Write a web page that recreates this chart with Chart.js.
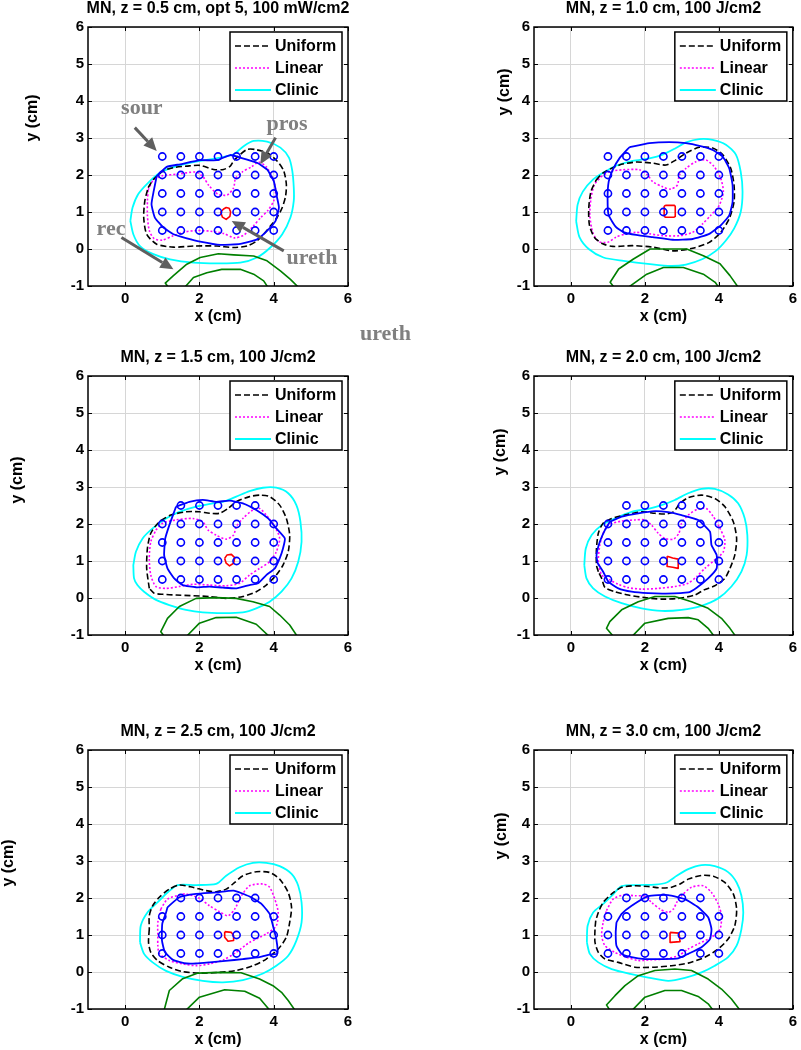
<!DOCTYPE html>
<html>
<head>
<meta charset="utf-8">
<script src="https://cdn.jsdelivr.net/npm/chart.js@4.4.0/dist/chart.umd.min.js"></script>
<style>
  body { margin: 0; background: #fff; width: 801px; height: 1050px; position: relative; overflow: hidden; }
  canvas { position: absolute; }
  #stray { position: absolute; left: 360px; top: 321px; font: bold 22px "Liberation Serif", "Times New Roman", serif; color: #808080; line-height: 24px; z-index: 5; }
</style>
</head>
<body>
<canvas id="c1" width="400" height="335" style="left:0;top:0"></canvas>
<canvas id="c2" width="401" height="335" style="left:400px;top:0"></canvas>
<canvas id="c3" width="400" height="365" style="left:0;top:335px"></canvas>
<canvas id="c4" width="401" height="365" style="left:400px;top:335px"></canvas>
<canvas id="c5" width="400" height="350" style="left:0;top:700px"></canvas>
<canvas id="c6" width="401" height="350" style="left:400px;top:700px"></canvas>
<div id="stray">ureth</div>
<script>
// axes
const xTicks = [0, 2, 4, 6];
const yTicks = [-1, 0, 1, 2, 3, 4, 5, 6];
const seriesNames = ['Uniform', 'Linear', 'Clinic'];
const titles = [
  'MN, z = 0.5 cm, opt 5, 100 mW/cm2',
  'MN, z = 1.0 cm, 100 J/cm2',
  'MN, z = 1.5 cm, 100 J/cm2',
  'MN, z = 2.0 cm, 100 J/cm2',
  'MN, z = 2.5 cm, 100 J/cm2',
  'MN, z = 3.0 cm, 100 J/cm2'
];

// source positions: [y, [x...]]
const sourcesFull = [[2.5, [1, 1.5, 2, 2.5, 3, 3.5, 4]], [2, [1, 1.5, 2, 2.5, 3, 3.5, 4]], [1.5, [1, 1.5, 2, 2.5, 3, 3.5, 4]], [1, [1, 1.5, 2, 2.5, 3, 3.5, 4]], [0.5, [1, 1.5, 2, 2.5, 3, 3.5, 4]]];
const sourcesMid = [[2.5, [1.5, 2, 2.5, 3, 3.5]], [2, [1, 1.5, 2, 2.5, 3, 3.5, 4]], [1.5, [1, 1.5, 2, 2.5, 3, 3.5, 4]], [1, [1, 1.5, 2, 2.5, 3, 3.5, 4]], [0.5, [1, 1.5, 2, 2.5, 3, 3.5, 4]]];
const sourcesLow = [[2, [1.5, 2, 2.5, 3, 3.5]], [1.5, [1, 1.5, 2, 2.5, 3, 3.5, 4]], [1, [1, 1.5, 2, 2.5, 3, 3.5, 4]], [0.5, [1, 1.5, 2, 2.5, 3, 3.5, 4]]];

// z = 0.5
const uniform05 = [[0.62,1.66],[0.76,1.88],[1.03,2.11],[1.30,2.20],[1.66,2.24],[2.02,2.26],[2.38,2.15],[2.65,2.15],[2.83,2.24],[2.92,2.38],[3.05,2.51],[3.28,2.69],[3.50,2.69],[3.82,2.60],[4.09,2.38],[4.27,2.11],[4.34,1.75],[4.32,1.43],[4.23,1.12],[4.09,0.85],[3.91,0.62],[3.73,0.40],[3.55,0.22],[3.28,0.08],[2.92,0.04],[2.47,0.08],[1.84,0.08],[1.30,0.05],[0.85,0.13],[0.58,0.40],[0.50,0.85],[0.53,1.30],[0.62,1.66]];
const linear05 = [[0.62,1.60],[0.75,1.85],[1.0,1.98],[1.4,2.02],[1.9,2.08],[2.1,1.95],[2.25,1.72],[2.5,1.48],[2.75,1.46],[2.92,1.65],[2.97,1.90],[3.15,2.08],[3.4,2.22],[3.6,2.35],[3.8,2.22],[3.97,1.92],[4.05,1.60],[4.0,1.30],[3.85,1.05],[3.65,0.85],[3.45,0.62],[3.2,0.38],[2.95,0.30],[2.65,0.42],[2.3,0.48],[1.95,0.50],[1.6,0.46],[1.3,0.36],[1.0,0.24],[0.78,0.28],[0.65,0.50],[0.60,0.90],[0.60,1.30],[0.62,1.60]];
const clinic05 = [[0.14,0.76],[0.20,1.12],[0.35,1.48],[0.62,1.79],[0.94,2.06],[1.39,2.24],[2.02,2.38],[2.56,2.47],[2.92,2.56],[3.19,2.78],[3.46,2.92],[3.82,2.90],[4.18,2.74],[4.41,2.47],[4.50,2.11],[4.54,1.66],[4.54,1.30],[4.45,0.85],[4.23,0.40],[3.91,0.04],[3.55,-0.23],[3.10,-0.37],[2.47,-0.39],[1.84,-0.37],[1.21,-0.28],[0.76,-0.14],[0.40,0.08],[0.22,0.40],[0.14,0.76]];
const prostate05 = [[0.85,1.97],[1.12,2.22],[1.48,2.29],[2.02,2.40],[2.47,2.40],[2.83,2.54],[3.10,2.47],[3.55,2.33],[3.82,2.15],[4.00,1.84],[4.09,1.39],[4.14,1.12],[4.05,0.76],[3.82,0.49],[3.55,0.26],[3.10,0.14],[2.56,0.11],[2.02,0.20],[1.66,0.29],[1.30,0.40],[1.03,0.58],[0.80,0.85],[0.71,1.21],[0.77,1.57],[0.85,1.97]];
const urethra05 = [[2.57,1.0],[2.65,1.08],[2.72,1.12],[2.80,1.10],[2.84,1.0],[2.82,0.88],[2.72,0.80],[2.62,0.86],[2.57,1.0]];
const rectumOuter05 = [[1.16,-1.03],[1.08,-0.92],[1.30,-0.72],[1.66,-0.41],[2.02,-0.23],[2.51,-0.13],[2.92,-0.16],[3.46,-0.19],[3.82,-0.32],[4.18,-0.59],[4.45,-0.82],[4.66,-1.03]];
const rectumInner05 = [[1.61,-1.03],[1.84,-0.77],[2.2,-0.64],[2.6,-0.55],[3.1,-0.55],[3.46,-0.68],[3.73,-0.86],[3.84,-1.03]];

// z = 1.0
const uniform10 = [[0.68,1.86],[0.86,2.05],[1.31,2.27],[1.76,2.35],[2.21,2.32],[2.57,2.27],[2.84,2.41],[3.11,2.59],[3.47,2.75],[3.83,2.73],[4.10,2.55],[4.32,2.18],[4.41,1.73],[4.41,1.27],[4.28,0.82],[4.05,0.45],[3.74,0.18],[3.29,0.02],[2.75,-0.05],[2.21,0.05],[1.67,0.09],[1.13,0.07],[0.86,0.14],[0.63,0.32],[0.50,0.64],[0.48,1.09],[0.54,1.55],[0.68,1.86]];
const linear10 = [[0.81,1.95],[1.04,2.09],[1.40,2.14],[1.85,2.14],[2.07,2.0],[2.21,1.82],[2.48,1.68],[2.70,1.62],[2.88,1.73],[2.93,2.0],[3.11,2.18],[3.38,2.36],[3.65,2.41],[3.87,2.23],[4.05,1.91],[4.12,1.55],[4.01,1.18],[3.78,0.91],[3.56,0.68],[3.29,0.45],[2.93,0.36],[2.48,0.36],[2.12,0.41],[1.76,0.45],[1.49,0.41],[1.22,0.32],[0.99,0.18],[0.75,0.20],[0.59,0.45],[0.51,0.91],[0.54,1.36],[0.63,1.73],[0.81,1.95]];
const clinic10 = [[0.14,0.75],[0.18,1.2],[0.32,1.55],[0.6,1.88],[0.9,2.08],[1.22,2.25],[1.67,2.38],[2.12,2.45],[2.48,2.55],[2.84,2.73],[3.11,2.88],[3.47,2.97],[3.83,2.95],[4.19,2.82],[4.46,2.55],[4.59,2.09],[4.64,1.55],[4.59,1.0],[4.41,0.55],[4.19,0.23],[3.92,-0.05],[3.56,-0.27],[3.11,-0.42],[2.7,-0.46],[2.14,-0.41],[1.42,-0.32],[0.88,-0.23],[0.48,0.0],[0.23,0.32],[0.14,0.75]];
const prostate10 = [[1.58,2.75],[2.12,2.86],[2.66,2.89],[3.11,2.86],[3.50,2.78],[3.83,2.68],[4.10,2.50],[4.28,2.18],[4.37,1.73],[4.37,1.27],[4.28,0.91],[4.05,0.64],[3.74,0.41],[3.29,0.27],[2.75,0.25],[2.21,0.32],[1.76,0.38],[1.44,0.45],[1.22,0.59],[1.02,0.91],[0.99,1.36],[1.02,1.82],[1.13,2.14],[1.31,2.45],[1.58,2.75]];
const urethra10 = [[2.55,1.18],[2.80,1.18],[2.82,1.15],[2.82,0.88],[2.79,0.86],[2.55,0.86],[2.52,0.90],[2.52,1.15],[2.55,1.18]];
const rectumOuter10 = [[1.16,-1.03],[1.06,-0.9],[1.29,-0.54],[1.69,-0.27],[2.14,0.0],[3.13,0.0],[3.58,-0.18],[4.03,-0.40],[4.30,-0.72],[4.52,-1.03]];
const rectumInner10 = [[1.56,-1.03],[2.05,-0.68],[2.5,-0.5],[3.04,-0.5],[3.58,-0.68],[3.9,-0.9],[3.99,-1.03]];

// z = 1.5
const uniform15 = [[0.65,0.26],[0.58,0.80],[0.60,1.34],[0.69,1.75],[0.92,2.06],[1.23,2.24],[1.64,2.33],[2.0,2.33],[2.27,2.29],[2.54,2.29],[2.77,2.42],[2.99,2.60],[3.35,2.74],[3.62,2.78],[3.89,2.74],[4.16,2.51],[4.34,2.15],[4.43,1.70],[4.39,1.25],[4.25,0.89],[4.07,0.62],[3.80,0.35],[3.53,0.17],[3.17,0.04],[2.72,-0.01],[2.27,0.04],[1.37,0.08],[1.01,0.10],[0.78,0.13],[0.65,0.26]];
const linear15 = [[0.83,1.84],[1.01,2.02],[1.37,2.11],[1.82,2.15],[2.09,2.06],[2.23,1.84],[2.45,1.70],[2.72,1.59],[2.92,1.70],[2.99,1.93],[3.17,2.15],[3.44,2.38],[3.62,2.42],[3.80,2.24],[4.03,1.93],[4.16,1.61],[4.07,1.25],[3.89,0.98],[3.62,0.80],[3.35,0.62],[3.08,0.40],[2.72,0.33],[2.27,0.35],[1.82,0.37],[1.46,0.31],[1.10,0.26],[0.83,0.31],[0.69,0.62],[0.65,1.07],[0.69,1.52],[0.83,1.84]];
const clinic15 = [[0.22,0.89],[0.29,1.25],[0.47,1.61],[0.74,1.88],[1.10,2.15],[1.46,2.33],[1.91,2.47],[2.36,2.56],[2.70,2.62],[2.99,2.74],[3.35,2.89],[3.71,2.98],[4.07,2.98],[4.39,2.83],[4.61,2.51],[4.72,2.06],[4.75,1.52],[4.66,0.98],[4.48,0.53],[4.21,0.17],[3.89,-0.10],[3.53,-0.28],[3.17,-0.39],[2.63,-0.41],[2.09,-0.39],[1.64,-0.32],[1.19,-0.19],[0.83,-0.05],[0.51,0.17],[0.33,0.35],[0.24,0.53],[0.22,0.89]];
const prostate15 = [[1.37,2.47],[1.73,2.60],[2.09,2.65],[2.45,2.60],[2.81,2.63],[3.17,2.56],[3.53,2.38],[3.85,2.15],[4.07,1.88],[4.30,1.61],[4.25,1.34],[4.16,1.07],[4.03,0.80],[3.80,0.62],[3.58,0.40],[3.35,0.35],[3.0,0.26],[2.63,0.28],[2.27,0.31],[1.91,0.29],[1.55,0.35],[1.32,0.53],[1.14,0.80],[1.05,1.16],[1.08,1.61],[1.19,1.97],[1.32,2.33],[1.37,2.47]];
const urethra15 = [[2.68,1.07],[2.74,1.16],[2.86,1.18],[2.95,1.09],[2.92,0.94],[2.81,0.87],[2.72,0.94],[2.68,1.07]];
const rectumOuter15 = [[1.05,-1.03],[0.96,-0.91],[1.14,-0.55],[1.46,-0.23],[1.91,-0.01],[2.45,0.01],[2.99,-0.01],[3.44,-0.10],[3.89,-0.23],[4.16,-0.46],[4.43,-0.73],[4.63,-1.03]];
const rectumInner15 = [[1.66,-1.03],[2.0,-0.68],[2.45,-0.53],[2.99,-0.52],[3.53,-0.71],[3.87,-1.03]];

// z = 2.0
const uniform20 = [[0.74,0.71],[0.69,0.89],[0.69,1.34],[0.74,1.75],[0.87,2.02],[1.10,2.15],[1.46,2.24],[1.91,2.33],[2.27,2.29],[2.54,2.27],[2.77,2.33],[2.95,2.56],[3.17,2.71],[3.53,2.78],[3.89,2.69],[4.16,2.47],[4.39,2.06],[4.48,1.61],[4.43,1.16],[4.30,0.80],[4.16,0.53],[3.89,0.33],[3.60,0.22],[3.35,0.08],[2.90,-0.01],[2.45,-0.03],[2.0,0.01],[1.55,0.08],[1.19,0.17],[0.92,0.28],[0.83,0.53],[0.74,0.71]];
const linear20 = [[0.87,1.75],[1.01,1.97],[1.37,2.08],[1.73,2.11],[2.0,2.11],[2.18,1.97],[2.36,1.75],[2.54,1.61],[2.77,1.59],[2.92,1.75],[2.99,2.02],[3.17,2.24],[3.44,2.41],[3.67,2.41],[3.85,2.20],[4.03,1.88],[4.16,1.57],[4.12,1.25],[3.89,1.03],[3.62,0.80],[3.40,0.58],[3.17,0.40],[2.81,0.31],[2.36,0.26],[1.91,0.24],[1.55,0.28],[1.28,0.37],[1.05,0.49],[0.83,0.62],[0.74,0.98],[0.78,1.43],[0.87,1.75]];
const clinic20 = [[0.36,0.89],[0.40,1.34],[0.56,1.70],[0.83,1.97],[1.19,2.15],[1.64,2.33],[2.09,2.41],[2.45,2.51],[2.81,2.65],[3.17,2.83],[3.53,2.95],[3.89,2.95],[4.25,2.80],[4.52,2.56],[4.70,2.15],[4.77,1.70],[4.75,1.16],[4.61,0.71],[4.34,0.31],[3.98,-0.01],[3.53,-0.21],[2.99,-0.32],[2.45,-0.35],[1.91,-0.28],[1.37,-0.14],[0.92,0.04],[0.60,0.26],[0.42,0.53],[0.36,0.89]];
const prostate20 = [[1.05,2.06],[1.37,2.20],[1.82,2.29],[2.27,2.35],[2.63,2.32],[2.99,2.24],[3.44,2.11],[3.76,1.79],[3.80,1.43],[3.94,1.16],[3.94,0.80],[3.71,0.53],[3.40,0.28],[3.17,0.15],[2.56,0.12],[2.09,0.13],[1.64,0.17],[1.28,0.26],[1.01,0.44],[0.87,0.71],[0.72,0.95],[0.69,1.16],[0.78,1.52],[0.92,1.84],[1.05,2.06]];
const urethra20 = [[2.60,1.13],[2.75,1.08],[2.90,1.05],[2.90,0.80],[2.75,0.83],[2.62,0.85],[2.60,1.13]];
const rectumOuter20 = [[1.14,-1.03],[0.96,-0.82],[1.05,-0.64],[1.37,-0.32],[1.82,-0.10],[2.27,0.04],[2.81,0.04],[3.26,-0.10],[3.71,-0.28],[4.07,-0.55],[4.30,-0.82],[4.45,-1.03]];
const rectumInner20 = [[1.66,-1.03],[2.0,-0.68],[2.63,-0.55],[3.17,-0.53],[3.44,-0.59],[3.71,-0.82],[3.87,-1.03]];

// z = 2.5
const uniform25 = [[0.65,1.16],[0.63,0.80],[0.69,0.53],[0.87,0.31],[1.19,0.13],[1.55,0.01],[2.0,-0.03],[2.54,-0.01],[2.99,0.04],[3.44,0.17],[3.80,0.35],[4.12,0.62],[4.34,0.94],[4.43,1.34],[4.48,1.75],[4.39,2.15],[4.16,2.51],[3.89,2.69],[3.53,2.71],[3.17,2.60],[2.95,2.42],[2.72,2.24],[2.45,2.17],[2.18,2.20],[1.82,2.29],[1.46,2.35],[1.19,2.24],[0.92,2.02],[0.74,1.79],[0.65,1.52],[0.65,1.16]];
const linear25 = [[0.96,1.70],[1.14,1.97],[1.46,2.08],[1.64,2.11],[2.0,1.99],[2.27,1.79],[2.54,1.63],[2.77,1.52],[2.95,1.70],[3.13,2.06],[3.35,2.33],[3.71,2.38],[3.89,2.29],[4.03,1.97],[4.12,1.61],[4.07,1.25],[3.80,1.03],[3.35,0.80],[2.99,0.53],[2.65,0.33],[2.27,0.22],[1.91,0.17],[1.55,0.22],[1.19,0.31],[0.92,0.50],[0.88,0.71],[0.88,0.98],[0.88,1.34],[0.96,1.70]];
const clinic25 = [[0.40,0.80],[0.42,1.25],[0.60,1.61],[0.87,1.88],[1.14,2.15],[1.41,2.35],[1.91,2.35],[2.45,2.38],[2.72,2.60],[3.08,2.83],[3.44,2.95],[3.80,2.95],[4.16,2.86],[4.48,2.65],[4.66,2.33],[4.75,1.88],[4.75,1.34],[4.61,0.85],[4.39,0.44],[4.07,0.17],[3.71,-0.04],[3.17,-0.22],[2.63,-0.28],[2.09,-0.24],[1.55,-0.13],[1.10,0.03],[0.74,0.26],[0.51,0.49],[0.40,0.80]];
const prostate25 = [[1.14,1.75],[1.46,2.02],[1.91,2.11],[2.45,2.15],[2.92,2.20],[3.35,2.04],[3.67,1.84],[3.89,1.57],[3.98,1.25],[4.07,0.89],[4.10,0.50],[3.89,0.47],[3.62,0.40],[3.17,0.35],[2.70,0.30],[2.27,0.26],[1.91,0.23],[1.66,0.23],[1.30,0.32],[1.07,0.54],[0.99,0.86],[1.0,1.31],[1.10,1.60],[1.14,1.75]];
const urethra25 = [[2.68,1.09],[2.86,1.07],[2.92,0.98],[2.92,0.85],[2.77,0.83],[2.72,0.89],[2.68,0.94],[2.68,1.09]];
const rectumOuter25 = [[1.05,-1.03],[1.19,-0.50],[1.55,-0.18],[1.96,-0.03],[2.54,-0.01],[3.12,-0.02],[3.62,-0.19],[3.98,-0.37],[4.21,-0.55],[4.39,-0.77],[4.57,-1.03]];
const rectumInner25 = [[1.64,-1.03],[2.0,-0.68],[2.68,-0.48],[3.22,-0.52],[3.62,-0.71],[3.89,-1.03]];

// z = 3.0
const uniform30 = [[0.67,1.39],[0.65,1.16],[0.65,0.80],[0.74,0.53],[0.92,0.35],[1.28,0.26],[1.73,0.13],[2.27,0.13],[2.72,0.17],[3.17,0.24],[3.62,0.40],[3.98,0.62],[4.25,0.89],[4.43,1.25],[4.48,1.70],[4.39,2.11],[4.16,2.42],[3.85,2.59],[3.53,2.61],[3.17,2.51],[2.95,2.38],[2.72,2.29],[2.45,2.27],[2.09,2.31],[1.73,2.33],[1.37,2.29],[1.10,2.11],[0.87,1.88],[0.74,1.61],[0.67,1.39]];
const linear30 = [[0.96,1.66],[1.14,1.97],[1.41,2.08],[1.73,2.06],[2.0,2.05],[2.18,1.88],[2.41,1.70],[2.63,1.61],[2.77,1.70],[2.86,1.88],[2.99,2.06],[3.26,2.29],[3.58,2.33],[3.80,2.15],[3.98,1.84],[4.07,1.52],[4.03,1.16],[3.80,0.94],[3.44,0.76],[3.17,0.62],[2.90,0.44],[2.54,0.35],[2.18,0.33],[1.82,0.31],[1.50,0.40],[1.19,0.53],[0.92,0.71],[0.83,0.98],[0.87,1.34],[0.96,1.66]];
const clinic30 = [[0.43,0.80],[0.45,1.25],[0.60,1.61],[0.87,1.84],[1.10,2.06],[1.37,2.32],[1.82,2.35],[2.27,2.36],[2.59,2.42],[2.86,2.60],[3.17,2.78],[3.53,2.89],[3.89,2.86],[4.25,2.70],[4.48,2.42],[4.61,2.06],[4.66,1.61],[4.61,1.16],[4.48,0.71],[4.25,0.40],[3.89,0.17],[3.53,-0.01],[3.08,-0.16],[2.63,-0.24],[2.09,-0.15],[1.60,-0.05],[1.10,0.08],[0.74,0.26],[0.51,0.49],[0.43,0.80]];
const prostate30 = [[1.23,1.34],[1.37,1.57],[1.64,1.79],[2.09,2.05],[2.63,2.08],[3.08,1.97],[3.44,1.75],[3.71,1.48],[3.80,1.16],[3.76,0.89],[3.53,0.67],[3.17,0.49],[2.90,0.37],[2.45,0.35],[2.0,0.35],[1.64,0.40],[1.37,0.49],[1.23,0.71],[1.21,1.07],[1.23,1.34]];
const urethra30 = [[2.68,1.07],[2.92,1.05],[2.95,0.82],[2.70,0.80],[2.68,1.07]];
const rectumOuter30 = [[1.05,-1.03],[0.96,-0.89],[1.19,-0.64],[1.46,-0.37],[1.82,-0.10],[2.27,0.04],[2.81,0.08],[3.26,0.04],[3.71,-0.19],[4.07,-0.46],[4.34,-0.73],[4.57,-1.03]];
const rectumInner30 = [[1.66,-1.03],[2.0,-0.68],[2.54,-0.50],[2.99,-0.50],[3.44,-0.66],[3.71,-0.86],[3.84,-1.03]];

// annotations on the first panel (data coordinates)
const noteLabels = ['sour', 'pros', 'rec', 'ureth'];
const noteTextAt = [[0.45, 3.81], [4.36, 3.38], [-0.38, 0.54], [5.03, -0.24]];
const noteArrowFrom = [[0.26, 3.28], [4.05, 3.01], [-0.10, 0.31], [4.27, -0.05]];
const noteArrowTo = [[0.85, 2.65], [3.64, 2.29], [1.30, -0.55], [2.87, 0.76]];

const FONT = '"Liberation Sans", Arial, sans-serif';
Chart.defaults.font.family = FONT;

const pts = list => list.map(([x, y]) => ({ x, y }));
const sourcePts = rows => rows.flatMap(([y, xs]) => xs.map(x => ({ x, y })));

function curve(label, list, color, dash, width, tension) {
  return {
    label, data: pts(list), showLine: true, borderColor: color, backgroundColor: color,
    borderDash: dash, borderWidth: width, pointRadius: 0, pointHoverRadius: 0,
    tension, fill: false, borderJoinStyle: 'round'
  };
}

function arrow(ctx, x0, y0, x1, y1) {
  const ang = Math.atan2(y1 - y0, x1 - x0), hl = 13, hw = 6;
  const bx = x1 - hl * Math.cos(ang), by = y1 - hl * Math.sin(ang);
  ctx.beginPath(); ctx.moveTo(x0, y0); ctx.lineTo(bx, by); ctx.stroke();
  ctx.beginPath();
  ctx.moveTo(x1, y1);
  ctx.lineTo(bx + hw * Math.sin(ang), by - hw * Math.cos(ang));
  ctx.lineTo(bx - hw * Math.sin(ang), by + hw * Math.cos(ang));
  ctx.closePath(); ctx.fill();
}

// title, axis labels, legend, box, inward ticks, notes
const panelDeco = {
  id: 'panelDeco',
  afterDraw(chart, args, o) {
    const { ctx, chartArea: a, scales: { x, y } } = chart;
    ctx.save();
    ctx.strokeStyle = '#000';
    ctx.lineWidth = 1;
    ctx.beginPath();
    xTicks.forEach(v => {
      const px = Math.round(x.getPixelForValue(v)) + 0.5;
      ctx.moveTo(px, a.bottom); ctx.lineTo(px, a.bottom - 4);
      ctx.moveTo(px, a.top); ctx.lineTo(px, a.top + 4);
    });
    yTicks.forEach(v => {
      const py = Math.round(y.getPixelForValue(v)) + 0.5;
      ctx.moveTo(a.left, py); ctx.lineTo(a.left + 4, py);
      ctx.moveTo(a.right, py); ctx.lineTo(a.right - 4, py);
    });
    ctx.stroke();

    // notes (panel 1 only)
    (o.notes || []).forEach(n => {
      ctx.strokeStyle = '#5f5f5f'; ctx.fillStyle = '#5f5f5f'; ctx.lineWidth = 3;
      arrow(ctx, x.getPixelForValue(n.from[0]), y.getPixelForValue(n.from[1]),
        x.getPixelForValue(n.to[0]), y.getPixelForValue(n.to[1]));
      ctx.fillStyle = '#808080';
      ctx.font = 'bold 22px "Liberation Serif", "Times New Roman", serif';
      ctx.textAlign = 'center'; ctx.textBaseline = 'middle';
      ctx.fillText(n.text, x.getPixelForValue(n.at[0]), y.getPixelForValue(n.at[1]));
    });

    ctx.strokeStyle = '#000';
    ctx.lineWidth = 1.5;
    ctx.strokeRect(a.left, a.top, a.right - a.left, a.bottom - a.top);

    // legend box
    const bw = 112, bh = 69, bx = a.right - 6 - bw, by = a.top + 5;
    ctx.fillStyle = '#fff';
    ctx.fillRect(bx, by, bw, bh);
    ctx.strokeRect(bx, by, bw, bh);
    ctx.font = 'bold 16px ' + FONT;
    ctx.textAlign = 'left'; ctx.textBaseline = 'middle';
    seriesNames.forEach((name, i) => {
      const ds = chart.data.datasets.find(d => d.label === name);
      const ly = by + 14 + 22 * i;
      ctx.strokeStyle = ds.borderColor;
      ctx.lineWidth = ds.borderWidth;
      ctx.setLineDash(ds.borderDash || []);
      ctx.beginPath(); ctx.moveTo(bx + 5, ly); ctx.lineTo(bx + 41, ly); ctx.stroke();
      ctx.setLineDash([]);
      ctx.fillStyle = '#000';
      ctx.fillText(name, bx + 45, ly + 1);
    });

    // titles
    const cx = (a.left + a.right) / 2;
    ctx.fillStyle = '#000';
    ctx.textAlign = 'center'; ctx.textBaseline = 'middle';
    ctx.font = 'bold 16px ' + FONT;
    ctx.fillText(o.title, cx, a.top - 18);
    ctx.fillText('x (cm)', cx, a.bottom + 31);
    ctx.translate(a.left + o.yLab[0], a.top + o.yLab[1]);
    ctx.rotate(-Math.PI / 2);
    ctx.fillText('y (cm)', 0, 0);
    ctx.restore();
  }
};

const notes = noteLabels.map((t, i) => ({ text: t, at: noteTextAt[i], from: noteArrowFrom[i], to: noteArrowTo[i] }));

const panels = [
  { id: 'c1', t: 0, src: sourcesFull, u: uniform05, l: linear05, c: clinic05, p: prostate05, r: urethra05, ro: rectumOuter05, ri: rectumInner05, notes },
  { id: 'c2', t: 1, src: sourcesFull, u: uniform10, l: linear10, c: clinic10, p: prostate10, r: urethra10, ro: rectumOuter10, ri: rectumInner10 },
  { id: 'c3', t: 2, src: sourcesMid, u: uniform15, l: linear15, c: clinic15, p: prostate15, r: urethra15, ro: rectumOuter15, ri: rectumInner15 },
  { id: 'c4', t: 3, src: sourcesMid, u: uniform20, l: linear20, c: clinic20, p: prostate20, r: urethra20, ro: rectumOuter20, ri: rectumInner20 },
  { id: 'c5', t: 4, src: sourcesLow, u: uniform25, l: linear25, c: clinic25, p: prostate25, r: urethra25, ro: rectumOuter25, ri: rectumInner25 },
  { id: 'c6', t: 5, src: sourcesLow, u: uniform30, l: linear30, c: clinic30, p: prostate30, r: urethra30, ro: rectumOuter30, ri: rectumInner30 }
];

// placement of each plot box inside its canvas
const layouts = [
  { pad: { left: 58, right: 52, top: 27, bottom: 29 }, yLab: [-55, 91] },
  { pad: { left: 104, right: 7, top: 27, bottom: 29 }, yLab: [-29, 65] },
  { pad: { left: 58, right: 52, top: 41, bottom: 45 }, yLab: [-70, 104] },
  { pad: { left: 104, right: 7, top: 41, bottom: 45 }, yLab: [-33, 76] },
  { pad: { left: 58, right: 52, top: 50, bottom: 21 }, yLab: [-79, 113] },
  { pad: { left: 104, right: 7, top: 50, bottom: 21 }, yLab: [-32, 86] }
];

const tickFont = { size: 15, weight: 'bold', family: FONT };

panels.forEach((p, i) => {
  const lay = layouts[i];
  new Chart(document.getElementById(p.id), {
    type: 'scatter',
    data: {
      datasets: [
        { label: 'sources', data: sourcePts(p.src), pointStyle: 'circle', pointRadius: 3.6, pointBorderWidth: 1.6,
          pointBorderColor: '#0000ff', pointBackgroundColor: 'rgba(0,0,0,0)', showLine: false },
        curve('rectum outer', p.ro, '#007f00', [], 1.6, 0),
        curve('rectum inner', p.ri, '#007f00', [], 1.6, 0),
        curve('urethra', p.r, '#ff0000', [], 1.6, 0),
        curve('prostate', p.p, '#0000ff', [], 1.8, 0.15),
        curve('Uniform', p.u, '#000000', [6, 3], 1.6, 0.25),
        curve('Linear', p.l, '#ff00ff', [2, 2], 1.6, 0.25),
        curve('Clinic', p.c, '#00ffff', [], 1.8, 0.25)
      ]
    },
    options: {
      responsive: false,
      animation: false,
      layout: { padding: lay.pad },
      plugins: {
        legend: { display: false },
        tooltip: { enabled: false },
        panelDeco: { title: titles[p.t], yLab: lay.yLab, notes: p.notes }
      },
      scales: {
        x: {
          type: 'linear', min: -1, max: 6,
          afterBuildTicks: s => { s.ticks = xTicks.map(v => ({ value: v })); },
          afterFit: s => { s.height = 20; },
          grid: { color: '#d6d6d6', lineWidth: 1, drawTicks: false },
          border: { display: false },
          ticks: { font: tickFont, color: '#000', padding: 4, maxRotation: 0, autoSkip: false }
        },
        y: {
          type: 'linear', min: -1, max: 6,
          afterBuildTicks: s => { s.ticks = yTicks.map(v => ({ value: v })); },
          afterFit: s => { s.width = 30; },
          grid: { color: '#d6d6d6', lineWidth: 1, drawTicks: false },
          border: { display: false },
          ticks: { font: tickFont, color: '#000', padding: 4, autoSkip: false }
        }
      }
    },
    plugins: [panelDeco]
  });
});
</script>
</body>
</html>
